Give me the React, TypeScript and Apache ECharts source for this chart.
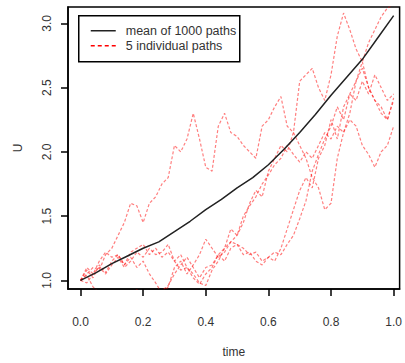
import React, { useEffect, useRef } from "react";
import * as echarts from "echarts";

const timeGrid = [0, 0.02, 0.04, 0.06, 0.08, 0.1, 0.12, 0.14, 0.16, 0.18, 0.2, 0.22, 0.24, 0.26, 0.28, 0.3, 0.32, 0.34, 0.36, 0.38, 0.4, 0.42, 0.44, 0.46, 0.48, 0.5, 0.52, 0.54, 0.56, 0.58, 0.6, 0.62, 0.64, 0.66, 0.68, 0.7, 0.72, 0.74, 0.76, 0.78, 0.8, 0.82, 0.84, 0.86, 0.88, 0.9, 0.92, 0.94, 0.96, 0.98, 1.0];

const path1 = [1.0, 1.05, 1.1, 1.08, 1.2, 1.25, 1.35, 1.45, 1.6, 1.58, 1.45, 1.6, 1.65, 1.75, 1.8, 2.05, 2.0, 2.1, 2.3, 2.1, 1.88, 1.85, 2.2, 2.3, 2.15, 2.12, 2.05, 2.0, 1.95, 2.2, 2.25, 2.35, 2.43, 2.2, 2.15, 2.05, 1.95, 1.8, 1.72, 1.55, 1.6, 1.95, 2.15, 2.3, 2.55, 2.65, 2.5, 2.4, 2.3, 2.25, 2.4];
const path2 = [1.0, 0.98, 1.05, 1.1, 1.05, 1.12, 1.18, 1.1, 1.15, 1.22, 1.18, 1.25, 1.2, 1.22, 1.28, 1.15, 1.2, 1.1, 1.05, 0.98, 0.96, 1.08, 1.15, 1.25, 1.3, 1.35, 1.45, 1.6, 1.7, 1.65, 1.85, 1.95, 2.05, 2.0, 2.15, 2.55, 2.6, 2.65, 2.5, 2.4, 2.6, 2.9, 3.08, 2.95, 2.8, 2.7, 2.85, 2.95, 3.05, 3.12, 3.15];
const path3 = [1.0, 1.08, 1.02, 1.12, 1.06, 1.15, 1.2, 1.12, 1.18, 1.1, 1.15, 1.05, 0.98, 0.9, 0.95, 1.1, 1.15, 1.05, 1.12, 1.2, 1.32, 1.25, 1.18, 1.22, 1.3, 1.28, 1.25, 1.2, 1.22, 1.15, 1.18, 1.22, 1.2, 1.28, 1.35, 1.48, 1.62, 1.85, 1.98, 2.1, 2.2, 2.35, 2.25, 2.45, 2.55, 2.7, 2.5, 2.4, 2.35, 2.25, 2.42];
const path4 = [1.0, 1.04, 0.95, 0.9, 0.85, 0.8, 0.85, 0.9, 0.88, 0.93, 0.85, 0.8, 0.86, 0.92, 0.96, 1.05, 1.12, 1.18, 1.1, 1.02, 1.1, 1.12, 1.2, 1.25, 1.4, 1.35, 1.5, 1.58, 1.65, 1.75, 1.82, 1.9, 1.95, 2.05, 1.98, 1.92, 2.0, 1.95, 2.05, 2.15, 2.1, 2.2, 2.15, 2.25, 2.2, 2.05, 1.98, 1.88, 2.0, 2.05, 2.2];
const path5 = [1.0, 1.1, 1.05, 1.15, 1.22, 1.18, 1.2, 1.12, 1.22, 1.25, 1.28, 1.2, 1.25, 1.18, 1.22, 1.15, 1.08, 1.1, 1.02, 0.97, 1.05, 1.1, 1.2, 1.15, 1.25, 1.28, 1.2, 1.22, 1.15, 1.12, 1.18, 1.15, 1.25, 1.4, 1.55, 1.7, 1.8, 1.72, 1.95, 2.05, 2.25, 2.1, 2.35, 2.45, 2.4, 2.55, 2.45, 2.6, 2.5, 2.4, 2.45];
const paths = [path1, path2, path3, path4, path5];

const meanTime = [0, 0.05, 0.1, 0.15, 0.2, 0.25, 0.3, 0.35, 0.4, 0.45, 0.5, 0.55, 0.6, 0.65, 0.7, 0.75, 0.8, 0.85, 0.9, 0.95, 1.0];
const meanValues = [1.0, 1.06, 1.13, 1.19, 1.25, 1.3, 1.38, 1.46, 1.55, 1.63, 1.72, 1.8, 1.9, 2.02, 2.15, 2.29, 2.44, 2.58, 2.72, 2.89, 3.06];

const xTicks = [0, 0.2, 0.4, 0.6, 0.8, 1.0];
const yTicks = [1.0, 1.5, 2.0, 2.5, 3.0];

const meanName = "mean of 1000 paths";
const pathName = "5 individual paths";

export default function App() {
  const ref = useRef<HTMLDivElement>(null);
  useEffect(() => {
    if (!ref.current) return;
    const chart = echarts.init(ref.current, null, { renderer: "svg" });
    const font = "'Liberation Sans', Arial, sans-serif";
    const pathSeries = paths.map((p) => ({
      name: pathName,
      type: "line",
      data: timeGrid.map((t, i) => [t, p[i]]),
      showSymbol: false,
      symbol: "none",
      clip: true,
      lineStyle: { color: "rgba(255,0,0,0.5)", width: 1.2, type: [3, 2] },
      itemStyle: { color: "#ff0000" },
      z: 2,
    }));
    chart.setOption({
      animation: false,
      textStyle: { fontFamily: font },
      grid: {
        left: 68,
        top: 7,
        right: 1,
        bottom: 63,
        show: true,
        borderColor: "#000",
        borderWidth: 1.5,
        backgroundColor: "transparent",
      },
      graphic: [
        {
          type: "group",
          left: 78,
          top: 15,
          z: 100,
          children: [
            { type: "rect", shape: { x: 0, y: 0, width: 161, height: 46 }, style: { fill: "#fff", stroke: "#000", lineWidth: 1.5 } },
            { type: "line", shape: { x1: 12, y1: 15, x2: 37, y2: 15 }, style: { stroke: "#222", lineWidth: 1.5 } },
            { type: "line", shape: { x1: 12, y1: 30, x2: 37, y2: 30 }, style: { stroke: "#ff0000", lineWidth: 1.5, lineDash: [4, 3] } },
            { type: "text", x: 47, y: 15, style: { text: meanName, fill: "#333", font: `12.5px ${font}`, verticalAlign: "middle" } },
            { type: "text", x: 47, y: 30, style: { text: pathName, fill: "#333", font: `12.5px ${font}`, verticalAlign: "middle" } },
          ],
        },
      ],
      xAxis: {
        type: "value",
        min: -0.04,
        max: 1.019,
        name: "time",
        nameLocation: "middle",
        nameGap: 57,
        nameTextStyle: { fontSize: 12, color: "#333" },
        splitLine: { show: false },
        axisLine: { show: true, onZero: false, lineStyle: { color: "#000", width: 1.5 } },
        axisTick: { show: true, inside: false, length: 7, customValues: xTicks, lineStyle: { color: "#000", width: 1.5 } },
        axisLabel: {
          customValues: xTicks,
          margin: 27,
          fontSize: 12,
          color: "#333",
          formatter: (v: number) => v.toFixed(1),
        },
      },
      yAxis: {
        type: "value",
        min: 0.933,
        max: 3.127,
        name: "U",
        nameLocation: "middle",
        nameRotate: 90,
        nameGap: 44,
        nameTextStyle: { fontSize: 12, color: "#333" },
        splitLine: { show: false },
        axisLine: { show: true, onZero: false, lineStyle: { color: "#000", width: 1.5 } },
        axisTick: { show: true, inside: false, length: 7, customValues: yTicks, lineStyle: { color: "#000", width: 1.5 } },
        axisLabel: {
          customValues: yTicks,
          rotate: 90,
          margin: 15,
          fontSize: 12,
          color: "#333",
          formatter: (v: number) => v.toFixed(1),
        },
      },
      series: [
        ...pathSeries,
        {
          name: meanName,
          type: "line",
          data: meanTime.map((t, i) => [t, meanValues[i]]),
          showSymbol: false,
          symbol: "none",
          lineStyle: { color: "#222", width: 1.5 },
          itemStyle: { color: "#222" },
          z: 3,
        },
      ],
    });
    return () => chart.dispose();
  }, []);
  return <div ref={ref} style={{ width: 405, height: 363, position: "absolute", left: 0, top: 0 }} />;
}
